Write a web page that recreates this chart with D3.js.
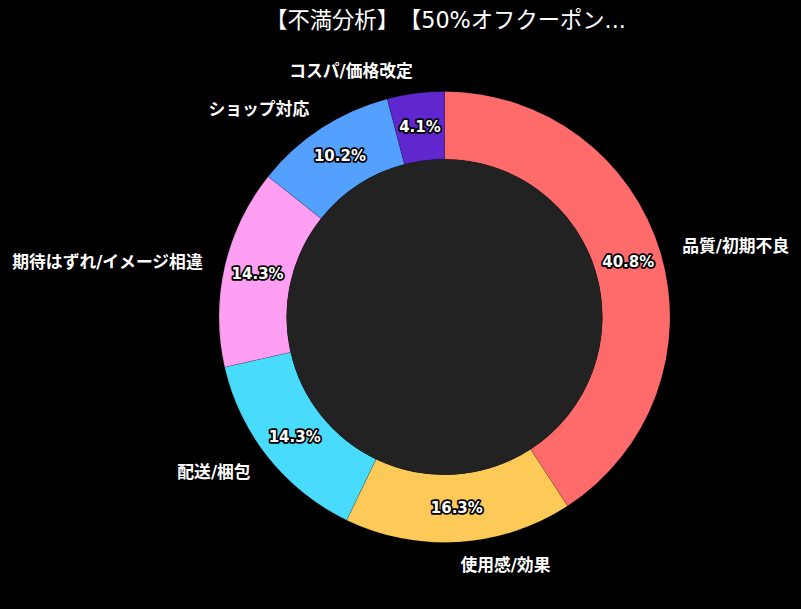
<!DOCTYPE html>
<html>
<head>
<meta charset="utf-8">
<script src="https://cdn.jsdelivr.net/npm/d3@7"></script>
<style>
  body { margin: 0; background: #000; }
  text { font-family: "DejaVu Sans", "Noto Sans CJK JP", sans-serif; text-spacing-trim: space-all; }
</style>
</head>
<body>
<div id="chart"></div>
<script>
// slice data, clockwise from 12 o'clock
const categories = ["品質/初期不良", "使用感/効果", "配送/梱包", "期待はずれ/イメージ相違", "ショップ対応", "コスパ/価格改定"];
const counts = [20, 8, 7, 7, 5, 2];
const colors = ["#ff6b6b", "#feca57", "#48dbfb", "#ff9ff3", "#54a0ff", "#5f27cd"];
const title = "【不満分析】【50%オフクーポン...";

const width = 801, height = 609;
const cx = 444.5, cy = 317;
const outerR = 225.5;
const innerR = outerR * 0.7;

const data = categories.map((c, i) => ({ name: c, value: counts[i], color: colors[i] }));
const total = d3.sum(counts);

const svg = d3.select("#chart")
    .append("svg")
    .attr("width", width)
    .attr("height", height)
    .style("background", "#000");

svg.append("text")
    .attr("x", cx + 1)
    .attr("y", 20)
    .attr("text-anchor", "middle")
    .attr("dominant-baseline", "central")
    .attr("fill", "#fff")
    .style("font-size", "22.3px")
    .text(title);

const g = svg.append("g").attr("transform", `translate(${cx},${cy})`);

const pie = d3.pie().value(d => d.value).sort(null);
const arcs = pie(data);

const arc = d3.arc().innerRadius(innerR).outerRadius(outerR);

g.selectAll(".slice")
    .data(arcs)
    .enter()
    .append("path")
    .attr("d", arc)
    .attr("fill", d => d.data.color)
    .attr("stroke", "rgba(0,0,0,0.25)")
    .attr("stroke-width", 0.6);

// centre hole
g.append("circle")
    .attr("r", innerR)
    .attr("fill", "#222222");

const mid = d => (d.startAngle + d.endAngle) / 2;

// outside labels
g.selectAll(".label")
    .data(arcs)
    .enter()
    .append("text")
    .attr("x", d => Math.sin(mid(d)) * outerR * 1.1)
    .attr("y", d => -Math.cos(mid(d)) * outerR * 1.1)
    .attr("text-anchor", d => Math.sin(mid(d)) > 0 ? "start" : "end")
    .attr("dominant-baseline", "central")
    .attr("fill", "#fff")
    .style("font-size", "16.8px")
    .style("font-weight", "bold")
    .text(d => d.data.name);

// percentage labels
g.selectAll(".pct")
    .data(arcs)
    .enter()
    .append("text")
    .attr("x", d => Math.sin(mid(d)) * outerR * 0.85)
    .attr("y", d => -Math.cos(mid(d)) * outerR * 0.85)
    .attr("text-anchor", "middle")
    .attr("dominant-baseline", "central")
    .attr("fill", "#fff")
    .attr("stroke", "#000")
    .attr("stroke-width", 3.5)
    .attr("stroke-linejoin", "round")
    .style("paint-order", "stroke")
    .style("font-size", "15px")
    .style("font-weight", "bold")
    .text(d => (d.data.value / total * 100).toFixed(1) + "%");
</script>
</body>
</html>
